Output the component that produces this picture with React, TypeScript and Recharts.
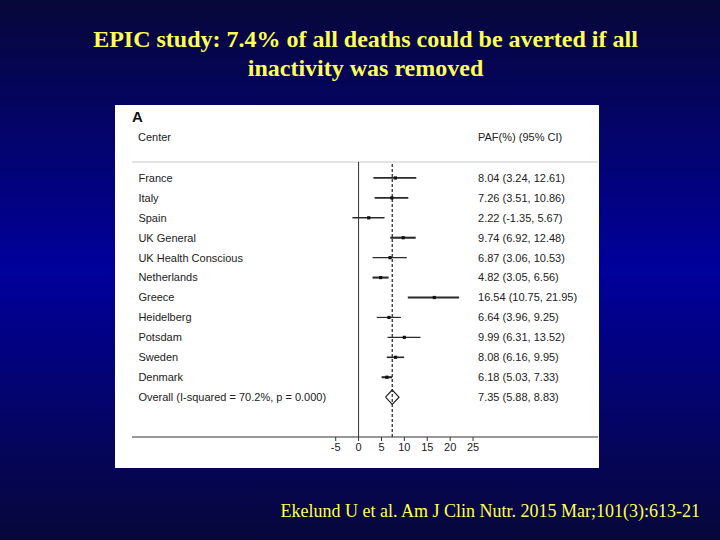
import { ComposedChart, Scatter, XAxis, YAxis, ReferenceLine } from "recharts";

// EPIC centres, PAF (%) with 95% CI
const studies = [
  "France", "Italy", "Spain", "UK General", "UK Health Conscious", "Netherlands",
  "Greece", "Heidelberg", "Potsdam", "Sweden", "Denmark",
];
const estimates = [8.04, 7.26, 2.22, 9.74, 6.87, 4.82, 16.54, 6.64, 9.99, 8.08, 6.18];
const lower = [3.24, 3.51, -1.35, 6.92, 3.06, 3.05, 10.75, 3.96, 6.31, 6.16, 5.03];
const upper = [12.61, 10.86, 5.67, 12.48, 10.53, 6.56, 21.95, 9.25, 13.52, 9.95, 7.33];
// relative study weights (drive line weight)
const weights = [7, 9, 5, 10, 5, 10, 10, 4, 5, 7, 10];

const overallLabel = "Overall (I-squared = 70.2%, p = 0.000)";
const overall = { est: 7.35, lo: 5.88, hi: 8.83 };

const xTicks = [-5, 0, 5, 10, 15, 20, 25];

const LABEL_X = -48.1;
const VALUE_X = 26.1;
const DIAMOND_H = 0.36;
const FONT = "'Liberation Sans', Arial, sans-serif";
const SERIF = "'Liberation Serif', 'Times New Roman', serif";
const YELLOW = "#ffff55";

const fmt = (e: number, l: number, h: number) => `${e.toFixed(2)} (${l.toFixed(2)}, ${h.toFixed(2)})`;

const rows = studies.map((name, i) => ({
  y: i + 1,
  name,
  est: estimates[i],
  lo: lower[i],
  hi: upper[i],
  w: weights[i],
}));
const overallRow = studies.length + 1;

const points = rows.map((r) => ({ x: r.est, y: r.y }));
const nameLabels = [
  ...rows.map((r) => ({ x: LABEL_X, y: r.y, text: r.name })),
  { x: LABEL_X, y: overallRow, text: overallLabel },
];
const valueLabels = [
  ...rows.map((r) => ({ x: VALUE_X, y: r.y, text: fmt(r.est, r.lo, r.hi) })),
  { x: VALUE_X, y: overallRow, text: fmt(overall.est, overall.lo, overall.hi) },
];
const diamond = [
  { x: overall.lo, y: overallRow },
  { x: overall.est, y: overallRow - DIAMOND_H },
  { x: overall.hi, y: overallRow },
  { x: overall.est, y: overallRow + DIAMOND_H },
  { x: overall.lo, y: overallRow },
];

const TextShape = (size: number) => (p: any) => (
  <text x={p.cx} y={p.cy} dy="0.35em" textAnchor="start" fontSize={size} fill="#222" fontFamily={FONT}>
    {p.payload.text}
  </text>
);

export default function App() {
  return (
    <div
      style={{
        position: "fixed",
        left: 0,
        top: 0,
        width: 720,
        height: 540,
        background: "linear-gradient(#07073a 0%, #00009c 50%, #07073a 100%)",
        overflow: "hidden",
      }}
    >
      <div
        style={{
          position: "absolute",
          left: 0,
          width: 731,
          top: 25,
          textAlign: "center",
          color: YELLOW,
          fontFamily: SERIF,
          fontWeight: "bold",
          fontSize: 24,
          lineHeight: "29px",
        }}
      >
        EPIC study: 7.4% of all deaths could be averted if all
        <br />
        inactivity was removed
      </div>

      <div style={{ position: "absolute", left: 115, top: 105, width: 484, height: 363, background: "#fff" }}>
        <div style={{ position: "absolute", left: 17, top: 3, fontFamily: FONT, fontWeight: "bold", fontSize: 15, color: "#111" }}>
          A
        </div>
        <div style={{ position: "absolute", left: 23, top: 26, fontFamily: FONT, fontSize: 11, color: "#222" }}>
          Center
        </div>
        <div style={{ position: "absolute", left: 363, top: 26, fontFamily: FONT, fontSize: 11, color: "#222" }}>
          PAF(%) (95% CI)
        </div>
        <ComposedChart width={484} height={363} margin={{ top: 57, right: 1, bottom: 11, left: 17 }}>
          <XAxis
            type="number"
            dataKey="x"
            domain={[-49.5, 52.3]}
            ticks={xTicks}
            allowDataOverflow
            height={20}
            tickSize={4}
            tickMargin={2}
            stroke="#333"
            tick={{ fontSize: 11, fill: "#222", fontFamily: FONT }}
          />
          <YAxis type="number" dataKey="y" domain={[0.2, 14]} reversed hide allowDataOverflow />
          <ReferenceLine y={0.2} stroke="#c8c8c8" strokeWidth={1} />
          <ReferenceLine x={0} stroke="#333" strokeWidth={1} />
          <ReferenceLine x={overall.est} stroke="#222" strokeWidth={1.2} strokeDasharray="3 2" />
          {rows.map((r) => (
            <ReferenceLine
              key={r.name}
              segment={[{ x: r.lo, y: r.y }, { x: r.hi, y: r.y }]}
              stroke="#2a2a2a"
              strokeWidth={0.6 + r.w * 0.15}
            />
          ))}
          <Scatter
            data={points}
            isAnimationActive={false}
            shape={(p: any) => <rect x={p.cx - 1.6} y={p.cy - 1.6} width={3.2} height={3.2} fill="#111" />}
          />
          <Scatter
            data={diamond}
            isAnimationActive={false}
            line={{ stroke: "#222", strokeWidth: 1.2 }}
            shape={() => <g />}
          />
          <Scatter data={nameLabels} isAnimationActive={false} shape={TextShape(11)} />
          <Scatter data={valueLabels} isAnimationActive={false} shape={TextShape(11)} />
        </ComposedChart>
      </div>

      <div
        style={{
          position: "absolute",
          right: 20,
          top: 501,
          color: YELLOW,
          fontFamily: SERIF,
          fontSize: 18,
          whiteSpace: "nowrap",
        }}
      >
        Ekelund U et al. Am J Clin Nutr. 2015 Mar;101(3):613-21
      </div>
    </div>
  );
}
